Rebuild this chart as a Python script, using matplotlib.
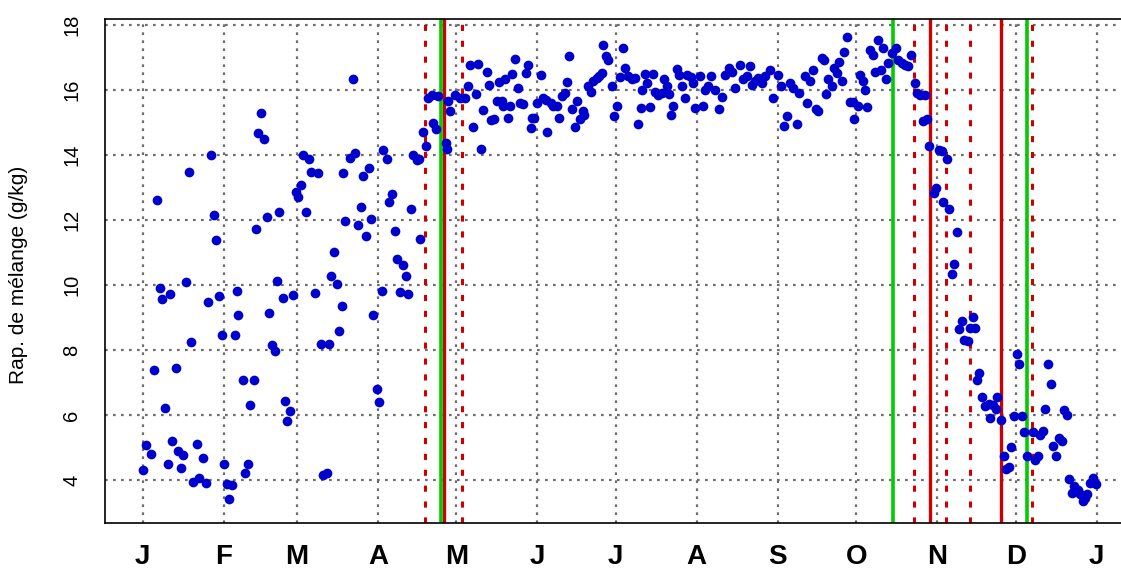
"""Rapport de mélange journalier sur une année, avec dates clés en lignes verticales."""
import matplotlib
matplotlib.use("Agg")
import matplotlib.pyplot as plt
import numpy as np

plt.rcParams["font.family"] = ["Liberation Sans", "DejaVu Sans"]

# ── data: (jour de l'année, rapport de mélange g/kg) ─────────────────────────
jan_apr = [
    (0.2, 4.32), (1.4, 5.09), (3.1, 4.81), (4.3, 7.37), (5.6, 12.62), (6.5, 9.90),
    (7.5, 9.58), (8.4, 6.23), (9.6, 4.48), (10.6, 9.71), (11.3, 5.21), (12.6, 7.44),
    (13.6, 4.89), (14.5, 4.36), (15.5, 4.76), (16.7, 10.08), (17.6, 13.46), (18.5, 8.25),
    (19.4, 3.95), (20.7, 5.12), (21.5, 4.05), (23.2, 4.68), (24.2, 3.92), (25.1, 9.47),
    (26.0, 13.99), (27.3, 12.14), (28.2, 11.37), (29.2, 9.67), (30.3, 8.45), (31.2, 4.50),
    (32.1, 3.87), (33.1, 3.43), (34.2, 3.84), (35.3, 8.45), (36.0, 9.82), (36.6, 9.09),
    (38.3, 7.07), (39.1, 4.23), (40.4, 4.50), (41.2, 6.31), (42.5, 7.07), (43.3, 11.73),
    (44.2, 14.66), (45.4, 15.30), (46.5, 14.48), (47.4, 12.10), (48.3, 9.13), (49.3, 8.15),
    (50.6, 7.98), (51.4, 10.12), (52.3, 12.25), (53.6, 9.59), (54.4, 6.44), (55.3, 5.83),
    (56.5, 6.11), (57.5, 9.70), (58.5, 12.87), (59.5, 12.71), (60.6, 13.07), (61.4, 14.00),
    (62.4, 12.25), (63.6, 13.87), (64.6, 13.46), (66.0, 9.74), (67.2, 13.44), (68.2, 8.18),
    (69.1, 4.17), (70.4, 4.21), (71.4, 8.18), (72.2, 10.28), (73.1, 11.01), (74.2, 10.03),
    (75.2, 8.58), (76.1, 9.36), (76.7, 13.44), (77.4, 11.96), (79.3, 13.90), (80.3, 16.32),
    (81.2, 14.05), (82.4, 11.83), (83.4, 12.39), (84.4, 13.36), (85.3, 11.52), (86.6, 13.59),
    (87.5, 12.03), (88.2, 9.07), (89.5, 6.80), (90.5, 6.39), (91.4, 9.82), (92.1, 14.15),
    (93.6, 13.87), (94.3, 12.54), (95.5, 12.80), (96.5, 11.65), (97.4, 10.81), (98.4, 9.79),
    (99.6, 10.60), (100.6, 10.27), (101.6, 9.71), (102.5, 12.34), (103.5, 14.00),
    (104.8, 13.84), (105.7, 13.87), (106.1, 11.41),
]

may_oct = [
    (107.1, 14.70), (108.4, 14.28), (109.3, 15.76), (110.6, 15.83), (111.2, 14.99),
    (112.2, 14.81), (113.1, 15.81), (116.0, 14.38), (116.5, 14.17), (116.9, 15.65),
    (117.6, 15.35), (119.5, 15.83), (121.4, 15.76), (123.3, 15.76), (124.3, 16.11),
    (125.2, 16.75), (126.2, 14.85), (127.4, 15.88), (128.4, 16.81), (129.3, 14.17),
    (130.3, 15.38), (131.6, 16.55), (132.5, 16.16), (133.2, 15.07), (134.4, 15.11),
    (135.4, 15.67), (136.4, 16.23), (137.3, 15.65), (137.9, 15.50), (138.6, 16.32),
    (139.6, 15.14), (140.5, 15.50), (141.5, 16.50), (142.4, 16.96), (143.7, 16.06),
    (144.3, 15.60), (145.4, 15.58), (146.6, 16.52), (147.5, 16.75), (148.4, 14.84),
    (148.8, 15.14), (149.8, 15.14), (150.7, 15.60), (152.4, 16.47), (153.0, 15.76),
    (154.3, 15.70), (154.8, 14.69), (156.1, 15.60), (157.1, 15.50), (158.4, 15.50),
    (159.3, 15.14), (160.3, 15.81), (161.6, 15.91), (162.2, 16.23), (163.2, 17.03),
    (164.4, 15.42), (165.4, 14.86), (166.3, 15.67), (167.3, 15.09), (168.3, 15.35),
    (168.8, 15.24), (170.5, 16.11), (171.4, 15.94), (172.4, 16.26), (173.7, 16.37),
    (174.7, 16.42), (175.6, 16.52), (176.2, 17.37), (177.1, 17.03), (178.1, 16.91),
    (179.4, 16.11), (180.3, 15.21), (181.3, 15.50), (182.6, 16.40), (183.6, 17.29),
    (184.5, 16.67), (185.8, 16.42), (187.1, 16.32), (188.3, 16.37), (189.6, 14.94),
    (190.5, 15.45), (190.9, 16.01), (192.2, 16.49), (193.1, 16.21), (194.1, 15.48),
    (195.1, 16.49), (196.0, 15.93), (197.3, 15.83), (198.6, 15.91), (199.4, 16.32),
    (200.5, 16.11), (201.5, 15.86), (202.1, 15.24), (203.0, 15.50), (204.3, 16.64),
    (205.3, 16.47), (206.2, 16.13), (207.5, 15.76), (208.4, 16.47), (209.6, 16.40),
    (210.6, 16.21), (211.3, 15.45), (213.2, 16.42), (214.5, 15.50), (215.1, 16.01),
    (216.4, 16.11), (217.3, 16.44), (219.0, 16.01), (220.6, 15.42), (221.5, 15.79),
    (222.8, 16.47), (224.4, 16.67), (225.3, 16.54), (226.6, 16.06), (228.5, 16.78),
    (229.8, 16.32), (231.1, 16.42), (232.4, 16.72), (233.0, 16.16), (234.3, 16.26),
    (235.5, 16.37), (236.8, 16.21), (238.1, 16.42), (240.0, 16.62), (241.0, 15.76),
    (243.2, 16.47), (244.1, 16.13), (245.4, 14.89), (246.4, 15.21), (247.6, 16.21),
    (248.9, 16.06), (250.2, 14.94), (251.2, 15.91), (253.4, 16.44), (254.3, 15.60),
    (255.3, 16.26), (256.6, 16.62), (257.6, 15.40), (258.5, 15.35), (259.8, 16.98),
    (260.7, 16.91), (261.4, 15.86), (262.3, 16.34), (263.6, 16.11), (264.6, 16.67),
    (265.5, 16.52), (266.5, 16.85), (267.7, 16.26), (268.3, 17.18), (269.5, 17.62),
    (270.6, 15.62), (271.8, 15.62), (272.2, 15.11), (273.8, 15.50), (274.4, 16.47),
    (275.7, 16.26), (276.2, 16.01), (277.2, 15.48), (278.2, 17.23), (279.3, 17.08),
    (280.2, 16.54), (281.4, 17.54), (282.3, 16.62), (283.3, 17.29), (284.4, 16.32),
    (285.2, 16.83), (286.5, 17.13), (288.4, 17.29), (289.1, 16.93), (290.4, 16.83),
    (291.6, 16.78), (292.9, 16.72), (293.8, 17.08), (295.4, 16.21), (296.1, 15.91),
    (297.3, 15.83), (298.4, 15.04), (299.3, 15.83), (299.9, 15.11),
]

nov_dec = [
    (300.9, 14.26), (302.7, 12.83), (303.5, 12.97), (304.8, 14.15), (306.0, 14.12),
    (306.3, 12.56), (307.6, 13.87), (308.6, 12.34), (309.5, 10.35), (310.5, 10.65),
    (311.6, 11.64), (312.4, 8.66), (313.3, 8.89), (314.3, 8.31), (315.6, 8.29),
    (316.5, 8.69), (317.5, 9.02), (318.4, 8.68), (319.1, 7.08), (320.0, 7.29),
    (321.1, 6.56), (322.2, 6.29), (323.9, 6.34), (324.2, 5.91), (325.4, 6.32),
    (326.3, 6.19), (326.7, 6.57), (328.2, 5.86), (329.5, 4.74), (330.3, 4.33),
    (331.4, 4.40), (332.2, 5.02), (333.3, 5.96), (334.4, 7.88), (335.4, 7.56),
    (336.3, 5.96), (337.3, 5.48), (338.2, 4.74), (340.5, 5.47), (341.4, 4.63),
    (342.4, 4.74), (343.3, 5.38), (344.5, 5.50), (345.4, 6.19), (346.5, 7.56),
    (347.5, 6.95), (348.4, 5.04), (349.4, 4.74), (350.4, 5.30), (351.6, 5.20),
    (352.4, 6.16), (353.5, 5.99), (354.5, 4.02), (355.4, 3.61), (356.3, 3.82),
    (357.7, 3.71), (358.6, 3.56), (359.6, 3.36), (360.5, 3.46), (361.4, 3.56),
    (362.4, 3.92), (363.4, 4.05), (364.7, 3.89),
]

# dates clés (jour de l'année)
red_dotted_days = [108.0, 122.3, 295.2, 307.3, 316.5, 340.3]
red_solid_days = [115.3, 301.3, 328.2]
green_solid_days = [114.0, 287.2, 338.2]

month_starts = [0, 31, 59, 90, 120, 151, 181, 212, 243, 273, 304, 334, 365]
month_labels = ["J", "F", "M", "A", "M", "J", "J", "A", "S", "O", "N", "D", "J"]
y_ticks = [4, 6, 8, 10, 12, 14, 16, 18]

RED = "#cc0000"
GREEN = "#00cc00"
BLUE = "#0000cc"
GRID = "#6e6e6e"

# ── figure ───────────────────────────────────────────────────────────────────
W, H = 1121, 572
fig = plt.figure(figsize=(W / 100, H / 100), dpi=100)
ax = fig.add_axes([105 / W, 1 - 523 / H, 1 - 105 / W, (523 - 19) / H])

pts = np.array(jan_apr + may_oct + nov_dec)

ax.set_xlim(-14.4, 374.3)
ax.set_ylim(2.68, 18.18)

for x in month_starts:
    ax.axvline(x, color=GRID, lw=1.6, ls=(0, (1.2, 2.4)), zorder=1)
for y in y_ticks:
    ax.axhline(y, color=GRID, lw=1.6, ls=(0, (1.2, 2.4)), zorder=1)

for d in red_dotted_days:
    ax.axvline(d, color=RED, lw=2.2, ls=(0, (2, 3.2)), zorder=2)
for d in red_solid_days:
    ax.axvline(d, color=RED, lw=2.4, zorder=2)
for d in green_solid_days:
    ax.axvline(d, color=GREEN, lw=2.6, zorder=2)

ax.plot(pts[:, 0], pts[:, 1], "o", color=BLUE, ms=7, mew=0, zorder=3)

ax.set_xticks(month_starts)
ax.set_xticklabels(month_labels, fontsize=20, fontweight="bold")
ax.set_yticks(y_ticks)
ax.set_yticklabels([str(v) for v in y_ticks], fontsize=14.5)
ax.tick_params(axis="x", length=0, pad=15)
ax.tick_params(axis="y", length=0, pad=17, labelrotation=90)
for lbl in ax.get_yticklabels():
    lbl.set_va("center")

for side in ("left", "top", "bottom"):
    ax.spines[side].set_linewidth(1.2)
ax.spines["right"].set_visible(False)

fig.text(19 / W, 1 - 275 / H, "Rap. de mélange (g/kg)", rotation=90,
         ha="center", va="center", fontsize=15)

fig.savefig("out.png", dpi=100, facecolor="white")
plt.close(fig)
